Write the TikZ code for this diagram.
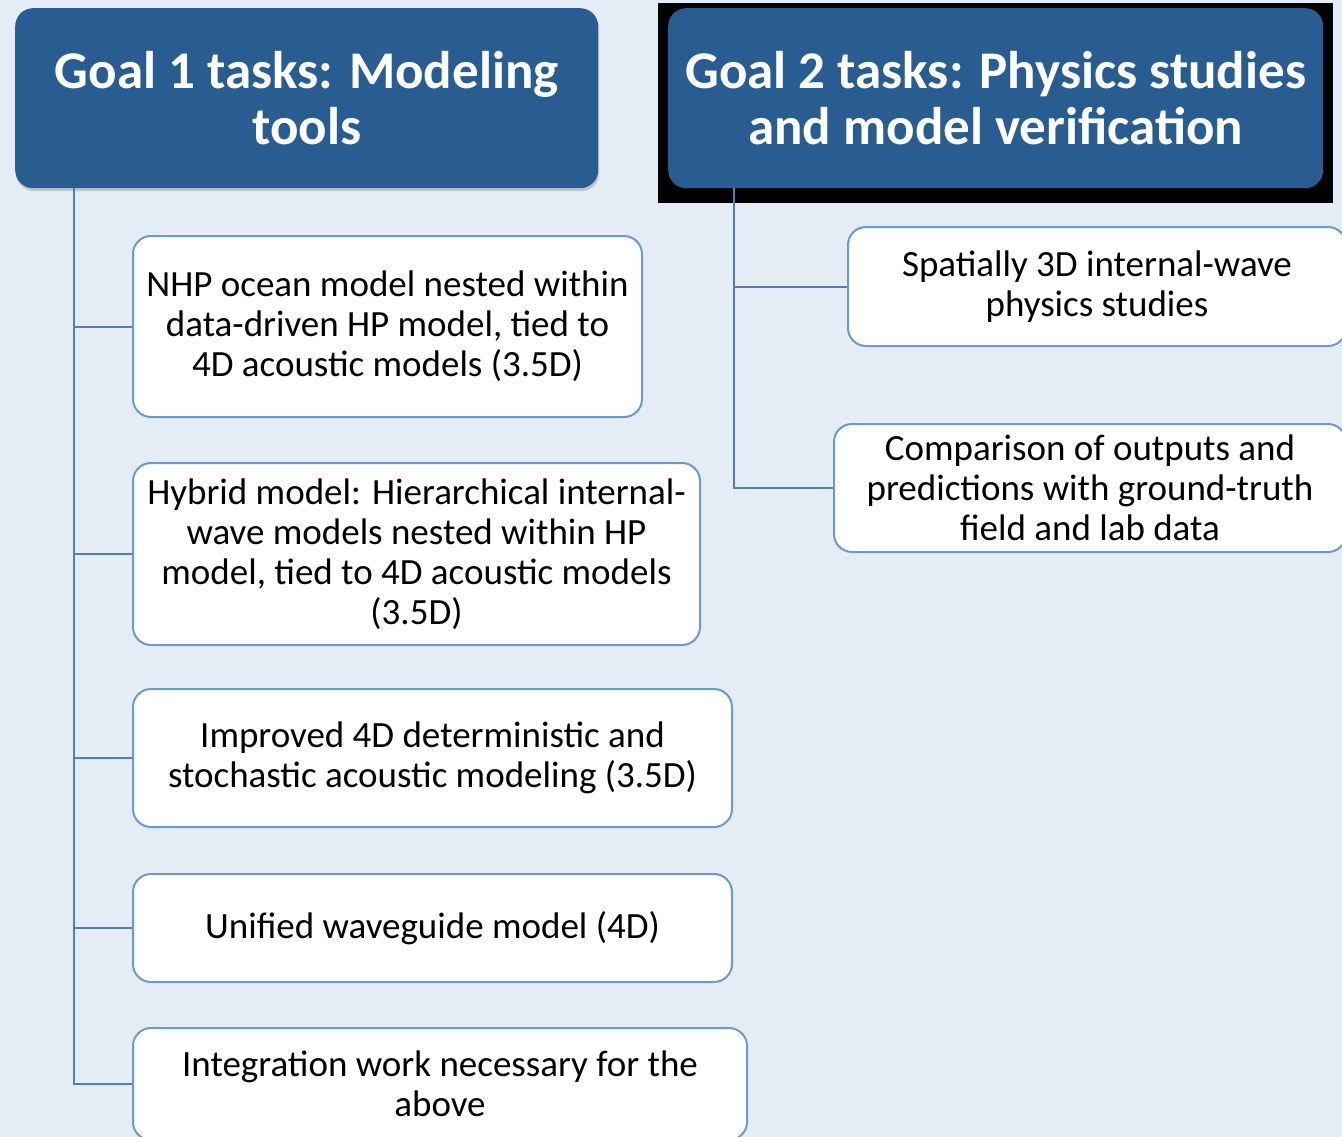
\documentclass[tikz,border=0pt]{standalone}
\usepackage{fontspec}
\setmainfont{Carlito}
\usetikzlibrary{shadows}
\definecolor{bg}{HTML}{E4ECF6}
\definecolor{hdr}{HTML}{295D91}
\definecolor{bord}{HTML}{6A9AD0}
\definecolor{conn}{HTML}{4F7FB8}
\tikzset{
  hdrbox/.style={fill=hdr, draw=none, rounded corners=18pt, text=white, align=center,
    font=\fontsize{53}{56}\selectfont\bfseries, inner sep=0pt, anchor=north west},
  taskbox/.style={fill=white, draw=bord, line width=2pt, rounded corners=18pt, align=center,
    font=\fontsize{37}{40}\selectfont, inner sep=0pt, anchor=north west},
  conline/.style={draw=conn, line width=2pt}
}
\begin{document}
\begin{tikzpicture}[x=1pt,y=-1pt]
\useasboundingbox (0,0) rectangle (1342,1137);
\fill[bg] (0,0) rectangle (1342,1137);
\begin{scope}
\clip (0,0) rectangle (1342,1137);
% Goal 1 header
\node[hdrbox, minimum width=583pt, minimum height=180pt,
  drop shadow={shadow xshift=1pt, shadow yshift=-3pt, opacity=0.35}] (g1) at (15,8)
  {Goal 1 tasks: Modeling\\tools};
% Goal 2 black frame and header
\fill[black] (658,3) rectangle (1333,203);
\node[hdrbox, minimum width=655pt, minimum height=180pt] (g2) at (668,8)
  {Goal 2 tasks: Physics studies\\and model verification};
% left tasks
\node[taskbox, minimum width=509pt, minimum height=181pt] (b1) at (132,235)
  {NHP ocean model nested within\\data-driven HP model, tied to\\4D acoustic models (3.5D)};
\node[taskbox, minimum width=567pt, minimum height=182pt] (b2) at (132,462)
  {Hybrid model: Hierarchical internal-\\wave models nested within HP\\model, tied to 4D acoustic models\\(3.5D)};
\node[taskbox, minimum width=599pt, minimum height=138pt] (b3) at (132,688)
  {Improved 4D deterministic and\\stochastic acoustic modeling (3.5D)};
\node[taskbox, minimum width=599pt, minimum height=108pt] (b4) at (132,873)
  {Unified waveguide model (4D)};
\node[taskbox, minimum width=614pt, minimum height=112pt] (b5) at (132,1027)
  {Integration work necessary for the\\above};
% right tasks
\node[taskbox, minimum width=498pt, minimum height=119pt] (r1) at (847,226)
  {Spatially 3D internal-wave\\physics studies};
\node[taskbox, minimum width=512pt, minimum height=128pt] (r2) at (833,423)
  {Comparison of outputs and\\predictions with ground-truth\\field and lab data};
% connectors
\coordinate (t1) at (74,188);
\coordinate (t2) at (734,188);
\draw[conline] (t1) |- (b5.west);
\foreach \n in {b1,b2,b3,b4} \draw[conline] (t1 |- \n.west) -- (\n.west);
\draw[conline] (t2) |- (r2.west);
\draw[conline] (t2 |- r1.west) -- (r1.west);
\end{scope}
\end{tikzpicture}
\end{document}
